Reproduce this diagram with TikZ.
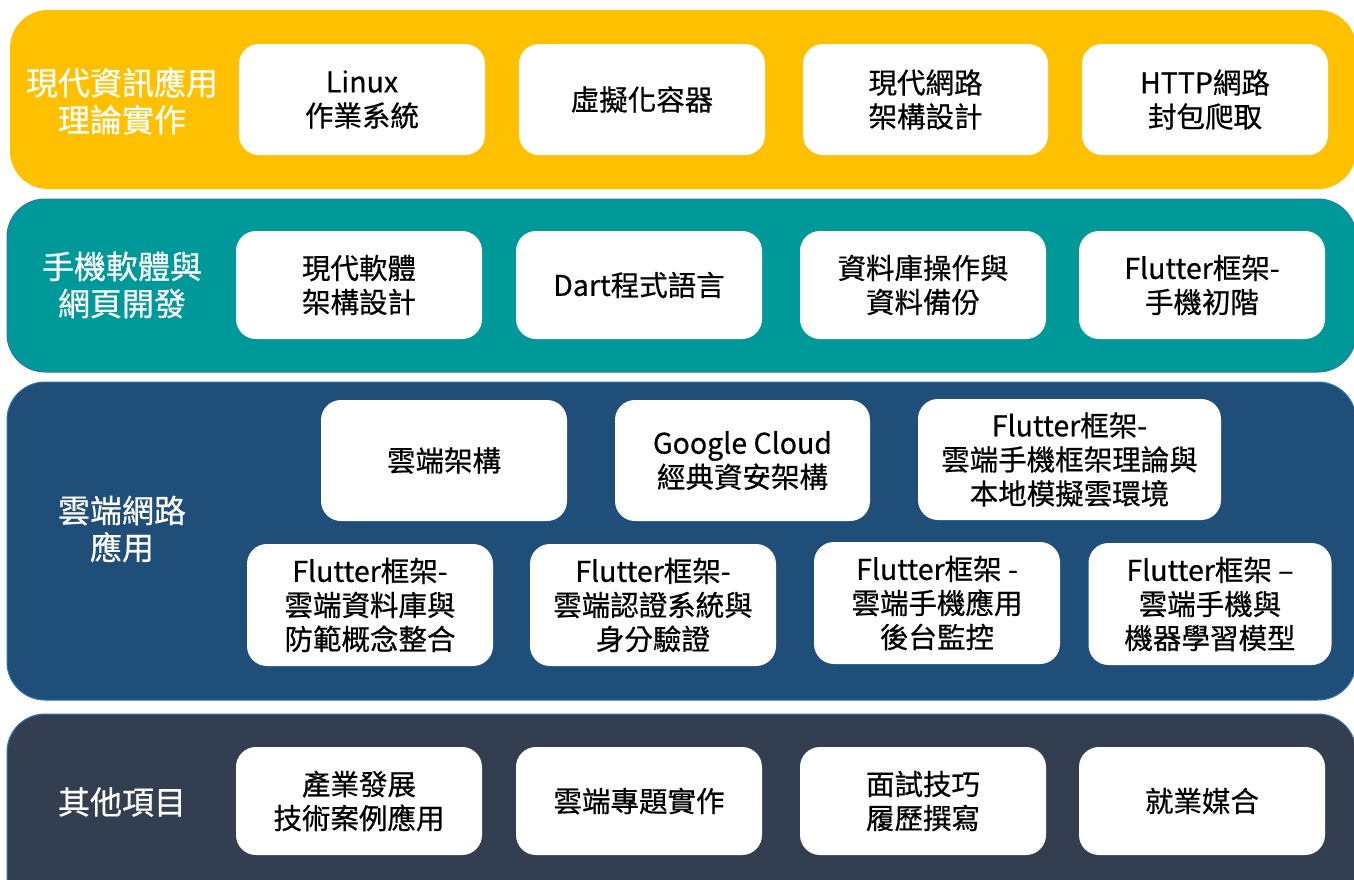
\documentclass[tikz,border=0pt]{standalone}
\usepackage{fontspec}
\setmainfont{Noto Sans CJK TC}[UprightFeatures={FakeBold=0.6}]
\definecolor{cyellow}{RGB}{255,192,0}
\definecolor{cteal}{RGB}{0,153,153}
\definecolor{cblue}{RGB}{31,78,121}
\definecolor{cslate}{RGB}{51,63,80}
\definecolor{cedge}{RGB}{46,117,182}
\tikzset{
  band/.style={rounded corners=38pt},
  box/.style={draw=none, fill=white, rounded corners=20pt, align=center, text=black,
    font=\fontsize{28.5}{34}\selectfont, inner sep=0pt},
  lbl/.style={align=center, text=white, font=\fontsize{32}{37}\selectfont, inner sep=0pt}
}
\begin{document}
\begin{tikzpicture}[x=1pt,y=-1pt]
\useasboundingbox (0,0) rectangle (1354,879);
\fill[white] (0,0) rectangle (1354,879);
\begin{scope}
\clip (0,0) rectangle (1354,879);
\fill[cyellow, band] (10,10) rectangle (1356,189);
\filldraw[cteal, draw=cedge, line width=1pt, band] (7,199) rectangle (1356,372);
\filldraw[cblue, draw=cedge, line width=1pt, band] (7,382) rectangle (1356,700);
\filldraw[cslate, draw=cedge, line width=1pt, band] (7,714) rectangle (1356,920);
\end{scope}

% labels
\node[lbl] (l1) at (122,101) {現代資訊應用\\理論實作};
\node[lbl] (l2) at (122,285) {手機軟體與\\網頁開發};
\node[lbl] (l3) at (122,529) {雲端網路\\應用};
\node[lbl] (l4) at (122,802) {其他項目};

% row 1
\node[box, minimum width=246pt, minimum height=111pt] (a1) at (362,99.5) {Linux\\作業系統};
\node[box, minimum width=246pt, minimum height=111pt] (a2) at (642,99.5) {虛擬化容器};
\node[box, minimum width=245pt, minimum height=111pt] (a3) at (925.5,99.5) {現代網路\\架構設計};
\node[box, minimum width=246pt, minimum height=111pt] (a4) at (1205,99.5) {HTTP網路\\封包爬取};

% row 2
\node[box, minimum width=246pt, minimum height=108pt] (b1) at (359,285) {現代軟體\\架構設計};
\node[box, minimum width=246pt, minimum height=108pt] (b2) at (639,285) {Dart程式語言};
\node[box, minimum width=246pt, minimum height=108pt] (b3) at (923,285) {資料庫操作與\\資料備份};
\node[box, minimum width=246pt, minimum height=108pt] (b4) at (1202,285) {Flutter框架-\\手機初階};

% row 3a
\node[box, minimum width=246pt, minimum height=121pt] (c1) at (444,460.5) {雲端架構};
\node[box, minimum width=255pt, minimum height=121pt] (c2) at (742.5,460.5) {Google Cloud\\經典資安架構};
\node[box, minimum width=303pt, minimum height=121pt] (c3) at (1069.5,459.5) {Flutter框架-\\雲端手機框架理論與\\本地模擬雲環境};

% row 3b
\node[box, minimum width=246pt, minimum height=122pt] (d1) at (370,605) {Flutter框架-\\雲端資料庫與\\防範概念整合};
\node[box, minimum width=246pt, minimum height=122pt] (d2) at (653,605) {Flutter框架-\\雲端認證系統與\\身分驗證};
\node[box, minimum width=246pt, minimum height=122pt] (d3) at (937,603) {Flutter框架 -\\雲端手機應用\\後台監控};
\node[box, minimum width=243pt, minimum height=122pt] (d4) at (1210,604) {Flutter框架 –\\雲端手機與\\機器學習模型};

% row 4
\node[box, minimum width=246pt, minimum height=108pt] (e1) at (359,801) {產業發展\\技術案例應用};
\node[box, minimum width=246pt, minimum height=108pt] (e2) at (639,801) {雲端專題實作};
\node[box, minimum width=246pt, minimum height=108pt] (e3) at (923,801) {面試技巧\\履歷撰寫};
\node[box, minimum width=246pt, minimum height=108pt] (e4) at (1202,801) {就業媒合};
\end{tikzpicture}
\end{document}
